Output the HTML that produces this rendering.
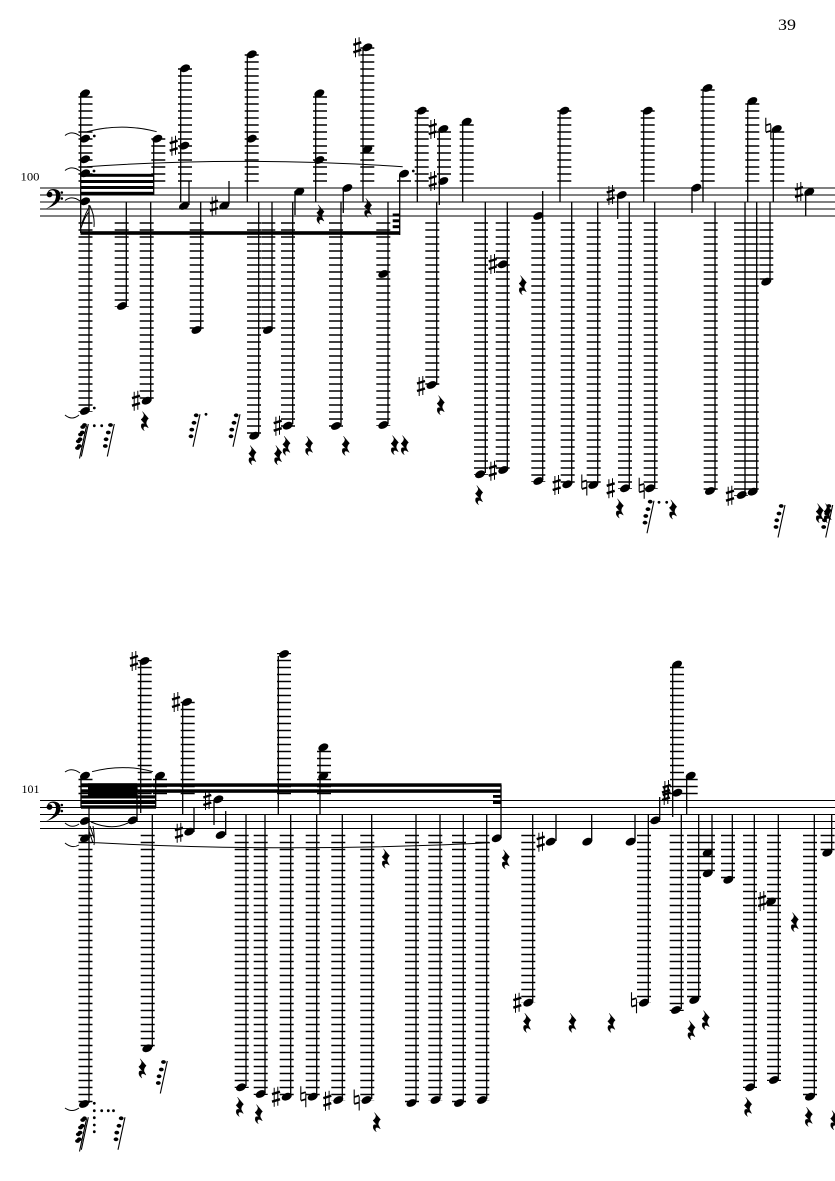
<!DOCTYPE html>
<html><head><meta charset="utf-8"><style>html,body{margin:0;padding:0;background:#fff}svg{display:block}text{font-family:"Liberation Serif",serif;fill:#000}</style></head><body>
<svg xmlns="http://www.w3.org/2000/svg" width="835" height="1181" viewBox="0 0 835 1181">
<defs>
<ellipse id="n" rx="5.3" ry="3.5" transform="rotate(-25)"/>
<path id="r" d="M-2.5-9.5L3.5-2.500Q.8 0 1.300 3L3.300 6.800Q-1 3.800-1.700 7Q-1.700 8.500-.7 9.800Q-5 7-3.400 3Q-1.300 1.800 .3 3.500L-4-1.500Q-.9-4-1-6.500Z" stroke="#000" stroke-width=".4"/>
<g id="s"><path d="M-1.8-9V10M1.8-10V9" stroke="#000" stroke-width="1" fill="none"/><path d="M-4-2.500L4-5M-4 5L4 2.500" stroke="#000" stroke-width="2.400" fill="none"/></g>
<g id="h"><path d="M-2.500-10.500V3.500M2.500-3.500V10.500" stroke="#000" stroke-width="1.100" fill="none"/><path d="M-2.500-3L2.500-4.500M-2.500 4L2.500 2.500" stroke="#000" stroke-width="1.800" fill="none"/></g>
<g id="g"><path d="M0 0L-7 32.500" stroke="#000" stroke-width="1.100" fill="none"/><ellipse cx="-3.800" cy="1" rx="2.400" ry="1.900"/><ellipse cx="-6" cy="8.500" rx="2.400" ry="1.900"/><ellipse cx="-8.200" cy="15.300" rx="2.400" ry="1.900"/><ellipse cx="-9" cy="22" rx="2.400" ry="1.900"/></g>
<g id="c"><path d="M46.800 194.500Q48 189 53 189Q60.500 189 60.500 196Q60.500 204 46 208.800Q56 203 56 196Q56 190.200 52 190.200Q48.500 190.500 47.500 194Z"/><circle cx="49.500" cy="194.500" r="2.900"/><circle cx="61.800" cy="192.500" r="1.300"/><circle cx="61.800" cy="198.500" r="1.300"/></g>
</defs>
<!-- staves -->
<path d="M40 188H835M40 195H835M40 202H835M40 209H835M40 216H835" stroke="#000" stroke-width="1" fill="none"/>
<path d="M40 800.500H835M40 807.500H835M40 814.500H835M40 821.500H835M40 828.500H835" stroke="#000" stroke-width="1" fill="none"/>
<use href="#c"/><use href="#c" y="612.500"/>
<!-- labels -->
<text x="778" y="30" font-size="15.500" textLength="18" lengthAdjust="spacingAndGlyphs">39</text>
<text x="20.500" y="180.500" font-size="11.500" textLength="19" lengthAdjust="spacingAndGlyphs">100</text>
<text x="21.500" y="793" font-size="11.500" textLength="18" lengthAdjust="spacingAndGlyphs">101</text>
<!-- ledgers -->
<g fill="none" stroke="#000" stroke-width="14" stroke-dasharray="1.500 5.500">
<path d="M85.500 181.750V92M158.300 181.750V137.700M185 181.750V67M251.700 181.750V53M320 181.750V92M367.300 181.750V46M404 181.750V180M421.700 181.750V110M444 174.750V128M466.700 181.750V121M564.300 181.750V110M647.700 181.750V110M707.700 181.750V87M752.300 181.750V100M777.300 181.750V128"/>
<path d="M85.500 222.250V412M121.700 222.250V307M146.700 222.250V402M196.700 222.250V331M254 222.250V437M268.300 222.250V331M288 222.250V427M336 222.250V427M383.300 222.250V426M432.300 222.250V386M481 222.250V475M502.700 222.250V471M538.300 222.250V482M567.700 222.250V485M593.700 222.250V486M625 222.250V489M650.700 222.250V489M710.700 222.250V492M741 222.250V496M751.700 222.250V493M766.300 222.250V283"/>
<path d="M85.500 794.250V775M160 794.250V775M144.700 794.250V660M187.700 794.250V701M284 794.250V653M324 794.250V746M677 794.250V663M690.700 794.250V775"/>
<path d="M85.500 834.750V1104M147.700 834.750V1049M241.700 834.750V1088M260.700 834.750V1095M286.700 834.750V1097M312.700 834.750V1097M338.300 834.750V1101M367.300 834.750V1101M412 834.750V1104M435.300 834.750V1101M459 834.750V1104M482.300 834.750V1101M528.300 834.750V1003M644 834.750V1003M676.700 834.750V1011M694 834.750V1001M708 834.750V874M728 834.750V880M750 834.750V1088M774 834.750V1081M810 834.750V1097M827.600 834.750V853"/>
</g>
<!-- stems -->
<path fill="none" stroke="#000" stroke-width="1.300" d="M80.700 93V233M89 205V410M153.700 140V195M126.300 202V305M150.700 202V399M180.700 202V70M189 181.500V205M200.700 202V329M229 181V204M247.300 202V56M258.700 202V434M272 202V329M292.700 202V424M295 191V215M315.700 202V95M341 202V425M343.300 188V213M363 202V49M388 202V424M399.700 175V235M417.300 202V112M439.300 205V131M436.700 202V385M462.700 202V124M485.300 202V473M507.300 202V470M542.700 191V480M571.700 202V484M560 202V112M597.700 202V484M617.700 195V219M629.300 202V488M643.700 202V112M654.700 202V488M692 187V213M703 202V90M715 202V490M745 202V494M756.700 202V491M770 202V281M747.700 202V103M773.300 202V131M805.700 192V216"/>
<path fill="none" stroke="#000" stroke-width="1.300" d="M81 778V808M89 808V1103M137 785V821M140.700 813V663M152.300 814V1047M155.700 778V808M182.700 814V704M194 808V832M214 800V825M225.700 811V835M246 814V1086M265 814V1093M278.300 814V656M290.700 814V1096M316.700 814V1096M320 814V749M342.300 814V1099M371.700 814V1099M416 814V1102M440 814V1099M463.300 814V1102M486.700 814V1099M501 785V838M532.700 814V1002M556 814V841M591.700 814V841M635 814V841M648.300 814V1002M659.700 797V820M672.700 817V666M681.300 814V1009M686.700 814V778M698.700 814V999M712 814V873M732.300 814V879M754.300 814V1086M778.300 814V1079M814.300 814V1096M831.700 814V852"/>
<!-- beams -->
<g>
<rect x="80.500" y="173.800" width="73.500" height="3"/><rect x="80.500" y="180" width="73.500" height="3"/><rect x="80.500" y="186" width="73.500" height="3"/><rect x="80.500" y="191.800" width="73.500" height="3.200"/>
<rect x="80.500" y="231.200" width="319.500" height="3.600"/>
<rect x="392.700" y="213.500" width="7" height="3"/><rect x="392.700" y="219.300" width="7" height="3"/><rect x="392.700" y="225.200" width="7" height="3"/>
<rect x="81" y="783.300" width="420.500" height="3.500"/><rect x="81" y="789.300" width="420.500" height="3.500"/>
<rect x="88" y="783.300" width="49" height="13.500"/><rect x="81" y="795.300" width="75" height="3.200"/><rect x="81" y="801" width="75" height="3"/><rect x="81" y="805.300" width="75" height="3.400"/>
<rect x="493" y="795" width="8" height="2.800"/><rect x="493" y="801" width="8" height="3"/>
</g>
<!-- slurs and ties -->
<g fill="none" stroke="#000" stroke-width="1">
<path d="M87 131.700Q122 122.500 156.700 131.700M87 166.700Q240 156 402.700 166.700M65 135.500Q72 130 80 136M65 170.500Q72 165 80 171M65 200.500Q72 195 80 201M65 415Q72 421 79 415M82 223Q86 212 90 206Q95 216 94 227M81 228Q85 216 89 212"/>
<path d="M92 771.700Q123 763.500 153 771.700M91 822Q112 831 128 823M92 842.500Q290 853 490 842.700M65 772Q72 767 80 773M65 823Q72 829 79 824M65 843Q72 849 79 845M65 1108Q72 1113 79 1108M90 826L94 838M89 831L93 843M93 826Q95 838 94 845"/>
</g>
<!-- staff 1 note heads -->
<g>
<use href="#n" x="85" y="93.300"/><use href="#n" x="85" y="138.700"/><use href="#n" x="85" y="159.300"/><use href="#n" x="85" y="173.300"/><use href="#n" x="85" y="201.300"/><use href="#n" x="85" y="411"/>
<use href="#n" x="157.300" y="138.700"/><use href="#n" x="122" y="306"/><use href="#n" x="146.700" y="400.700"/>
<use href="#n" x="184" y="206"/><use href="#n" x="185" y="68.300"/><use href="#n" x="184.300" y="145.700"/><use href="#n" x="196.500" y="330"/><use href="#n" x="224.300" y="205.700"/>
<use href="#n" x="251.700" y="54.300"/><use href="#n" x="251.700" y="138.700"/><use href="#n" x="254.300" y="435.700"/><use href="#n" x="268" y="330"/><use href="#n" x="287.700" y="425.700"/>
<use href="#n" x="299.300" y="191.700"/><use href="#n" x="319.300" y="93.300"/><use href="#n" x="319.300" y="160"/><use href="#n" x="336" y="426"/><use href="#n" x="347.300" y="188"/>
<use href="#n" x="367.300" y="47.300"/><use href="#n" x="367.300" y="149.300"/><use href="#n" x="383.300" y="425"/><use href="#n" x="383.300" y="274"/><use href="#n" x="404" y="173.700"/>
<use href="#n" x="421.700" y="110.700"/><use href="#n" x="443.300" y="129"/><use href="#n" x="443.300" y="181"/><use href="#n" x="431.500" y="385"/><use href="#n" x="466.700" y="121.700"/>
<use href="#n" x="480" y="474.300"/><use href="#n" x="502.700" y="264.300"/><use href="#n" x="503.300" y="470"/><use href="#n" x="538.300" y="216"/><use href="#n" x="538.300" y="481"/>
<use href="#n" x="567.300" y="484.300"/><use href="#n" x="564.300" y="110.700"/><use href="#n" x="593.300" y="485"/><use href="#n" x="621.700" y="195"/><use href="#n" x="625" y="488.300"/>
<use href="#n" x="647.700" y="110.700"/><use href="#n" x="650" y="488.300"/><use href="#n" x="696.300" y="187.700"/><use href="#n" x="707.500" y="88"/><use href="#n" x="710" y="491"/>
<use href="#n" x="741.700" y="495"/><use href="#n" x="752.700" y="491.700"/><use href="#n" x="766.300" y="281.700"/><use href="#n" x="752.300" y="101"/><use href="#n" x="776.700" y="129"/><use href="#n" x="809.300" y="192"/>
<!-- staff 2 note heads -->
<use href="#n" x="85" y="775.700"/><use href="#n" x="85" y="821"/><use href="#n" x="85" y="838.300"/><use href="#n" x="84" y="1104"/><use href="#n" x="160" y="775.700"/><use href="#n" x="132.700" y="820.300"/>
<use href="#n" x="144.500" y="661"/><use href="#n" x="147.300" y="1048.300"/><use href="#n" x="187" y="702"/><use href="#n" x="189.300" y="831.700"/><use href="#n" x="218.300" y="799.300"/><use href="#n" x="220.700" y="835"/>
<use href="#n" x="241" y="1087.300"/><use href="#n" x="260.700" y="1094"/><use href="#n" x="284" y="654"/><use href="#n" x="286.700" y="1096.700"/><use href="#n" x="312.700" y="1096.700"/><use href="#n" x="323.300" y="747.300"/><use href="#n" x="323.300" y="776"/>
<use href="#n" x="338.300" y="1100"/><use href="#n" x="366.500" y="1100"/><use href="#n" x="411.500" y="1103"/><use href="#n" x="435.500" y="1100"/><use href="#n" x="459" y="1103"/><use href="#n" x="482" y="1100"/><use href="#n" x="496.700" y="838.300"/>
<use href="#n" x="528.300" y="1002.700"/><use href="#n" x="550.700" y="841.700"/><use href="#n" x="587.300" y="841.700"/><use href="#n" x="630.700" y="841.700"/><use href="#n" x="644" y="1002.700"/><use href="#n" x="655.300" y="820.300"/>
<use href="#n" x="677.300" y="792.700"/><use href="#n" x="677" y="664.500"/><use href="#n" x="690.700" y="775.700"/><use href="#n" x="676" y="1010"/><use href="#n" x="694.300" y="1000"/><use href="#n" x="707.700" y="852.700"/><use href="#n" x="707.700" y="873.300"/>
<use href="#n" x="728.300" y="879.800"/><use href="#n" x="750" y="1087.300"/><use href="#n" x="774" y="1080"/><use href="#n" x="771" y="901.500"/><use href="#n" x="810" y="1096.700"/><use href="#n" x="827.300" y="852.700"/>
</g>
<!-- sharps -->
<g>
<use href="#s" x="173.700" y="145.700"/><use href="#s" x="136" y="400.700"/><use href="#s" x="214" y="205.700"/><use href="#s" x="277.700" y="425.700"/><use href="#s" x="357.300" y="47.300"/><use href="#s" x="432.700" y="129"/><use href="#s" x="432.700" y="181"/><use href="#s" x="421" y="386"/><use href="#s" x="492.700" y="264"/><use href="#s" x="492.700" y="470.700"/><use href="#s" x="556.700" y="485"/><use href="#s" x="610.700" y="195"/><use href="#s" x="610.700" y="488.300"/><use href="#s" x="730" y="495.700"/><use href="#s" x="799" y="192"/>
<use href="#s" x="134" y="661"/><use href="#s" x="176" y="702"/><use href="#s" x="179" y="832.700"/><use href="#s" x="207.300" y="800"/><use href="#s" x="276" y="1096.700"/><use href="#s" x="327.300" y="1100.700"/><use href="#s" x="517.300" y="1002.700"/><use href="#s" x="540.700" y="841.700"/><use href="#s" x="666" y="795"/><use href="#s" x="666.700" y="790"/><use href="#s" x="762" y="901"/>
</g>
<!-- naturals -->
<g>
<use href="#h" x="584.300" y="485"/><use href="#h" x="641.700" y="488.300"/><use href="#h" x="768.300" y="128.300"/><use href="#h" x="303.300" y="1096.700"/><use href="#h" x="356.700" y="1100"/><use href="#h" x="634" y="1002.700"/>
</g>
<!-- rests -->
<g>
<use href="#r" x="145" y="421"/><use href="#r" x="252.700" y="455"/><use href="#r" x="278.300" y="455"/><use href="#r" x="286.700" y="445.700"/><use href="#r" x="309.300" y="445.700"/><use href="#r" x="346" y="445.700"/><use href="#r" x="320.700" y="214.300"/><use href="#r" x="368.300" y="207.700"/><use href="#r" x="395" y="445"/><use href="#r" x="405" y="445"/><use href="#r" x="441" y="405"/><use href="#r" x="479.300" y="495"/><use href="#r" x="523" y="285"/><use href="#r" x="620" y="508.300"/><use href="#r" x="673.300" y="509.300"/><use href="#r" x="820" y="513"/><use href="#r" x="828" y="513"/>
<use href="#r" x="142.700" y="1068.300"/><use href="#r" x="240" y="1106.700"/><use href="#r" x="259" y="1114"/><use href="#r" x="377" y="1122"/><use href="#r" x="386" y="858.300"/><use href="#r" x="506" y="859.300"/><use href="#r" x="527.300" y="1022.700"/><use href="#r" x="572.700" y="1022.700"/><use href="#r" x="611.700" y="1022.700"/><use href="#r" x="691.700" y="1030"/><use href="#r" x="706" y="1020"/><use href="#r" x="748.300" y="1106.700"/><use href="#r" x="795" y="922"/><use href="#r" x="809" y="1116.700"/><use href="#r" x="834.500" y="1120"/>
</g>
<!-- grace stacks -->
<g>
<use href="#g" x="88.300" y="424"/><use href="#g" x="86.500" y="426"/><use href="#g" x="114.300" y="424"/><use href="#g" x="200" y="414.300"/><use href="#g" x="240" y="414.300"/><use href="#g" x="654" y="500.700"/><use href="#g" x="785" y="505"/><use href="#g" x="832.700" y="505"/>
<use href="#g" x="88.300" y="1117.300"/><use href="#g" x="86.500" y="1119"/><use href="#g" x="125" y="1117.300"/><use href="#g" x="167.300" y="1061"/>
</g>
<!-- dots -->
<g>
<circle cx="94.300" cy="136" r="1.400"/><circle cx="94" cy="171" r="1.400"/><circle cx="413.300" cy="171" r="1.400"/><circle cx="94.300" cy="408" r="1.400"/>
<circle cx="94.300" cy="425.700" r="1.400"/><circle cx="101.700" cy="425.700" r="1.400"/><circle cx="206" cy="414.300" r="1.400"/>
<circle cx="659" cy="502.300" r="1.400"/><circle cx="666.700" cy="502.300" r="1.400"/>
<circle cx="94.300" cy="1103.300" r="1.400"/><circle cx="94.300" cy="1110.700" r="1.400"/><circle cx="94.300" cy="1117.700" r="1.400"/><circle cx="94.300" cy="1125" r="1.400"/><circle cx="94.300" cy="1131.700" r="1.400"/>
<circle cx="101.700" cy="1110.700" r="1.400"/><circle cx="108.300" cy="1110.700" r="1.400"/><circle cx="113.500" cy="1110.700" r="1.400"/>
</g>
</svg>
</body></html>
